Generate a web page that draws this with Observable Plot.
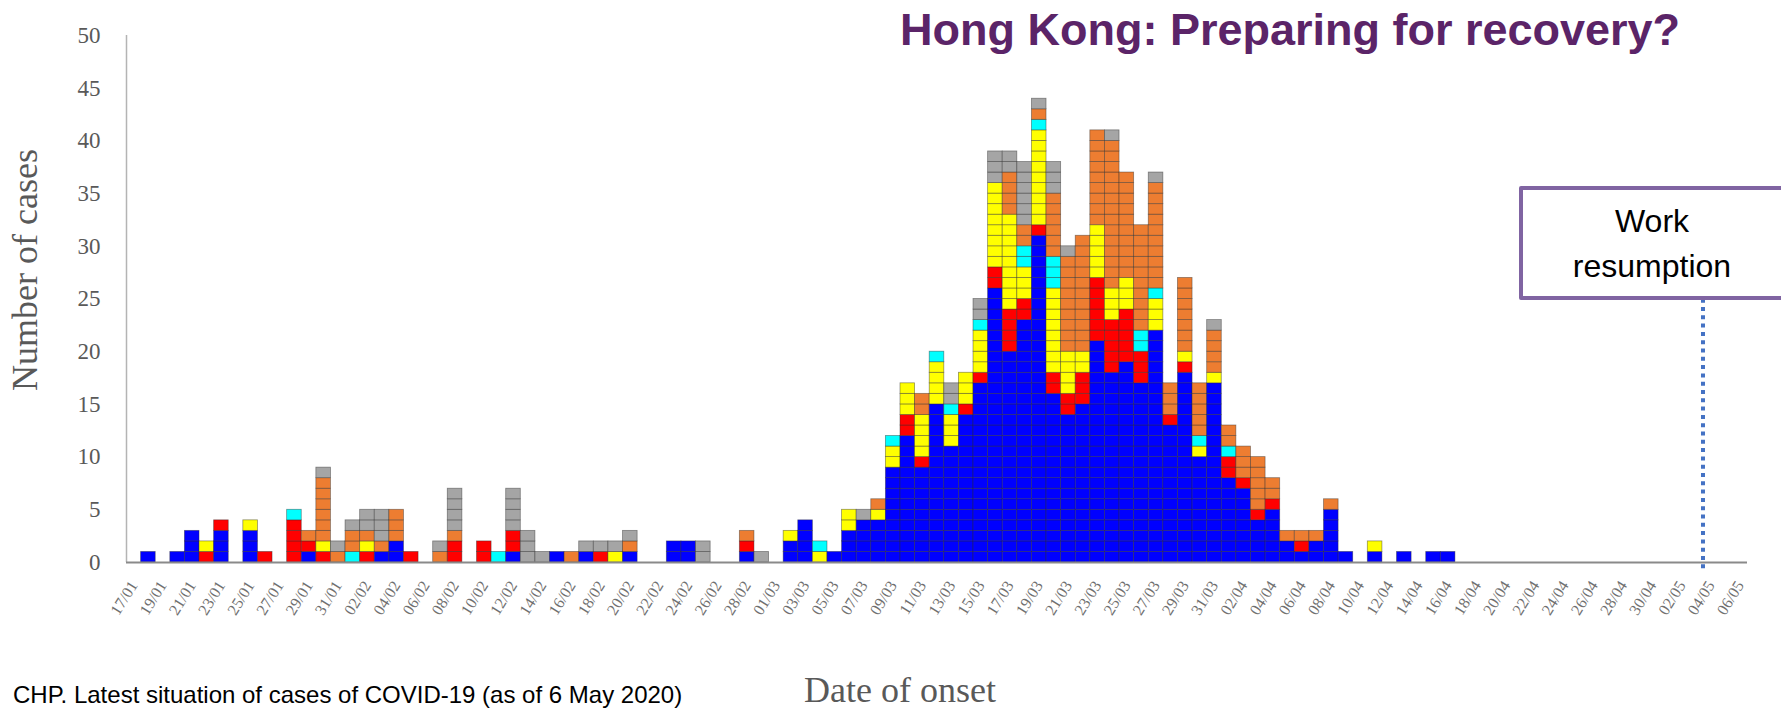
<!DOCTYPE html>
<html>
<head>
<meta charset="utf-8">
<script src="https://cdn.jsdelivr.net/npm/d3@7"></script>
<script src="https://cdn.jsdelivr.net/npm/@observablehq/plot@0.6"></script>
<style>
  html, body { margin: 0; padding: 0; background: #ffffff; }
  #wrap { position: relative; width: 1781px; height: 709px; overflow: hidden; background: #fff; }
  #chart { position: absolute; left: 0; top: 0; }
  #title { position: absolute; left: 900px; top: 7px; font-family: "Liberation Sans", Arial, sans-serif; font-weight: bold; font-size: 45px; line-height: 45px; color: #5b2468; white-space: nowrap; }
  #ylabel { position: absolute; left: -125px; top: 252px; width: 300px; height: 36px; line-height: 36px; text-align: center; font-family: "Liberation Serif", "Times New Roman", serif; font-size: 36px; color: #595959; transform: rotate(-90deg); white-space: nowrap; }
  #xlabel { position: absolute; left: 700px; top: 672px; width: 400px; text-align: center; font-family: "Liberation Serif", "Times New Roman", serif; font-size: 36px; line-height: 36px; color: #595959; white-space: nowrap; }
  #source { position: absolute; left: 13px; top: 683px; font-family: "Liberation Sans", Arial, sans-serif; font-size: 24px; line-height: 24px; color: #000; white-space: nowrap; }
  #box { position: absolute; left: 1519px; top: 186px; width: 266px; height: 114px; box-sizing: border-box; border: 4px solid #8064a2; border-radius: 2px; background: #fff; display: flex; flex-direction: column; align-items: center; justify-content: center; padding-top: 2px; font-family: "Liberation Sans", Arial, sans-serif; font-size: 32px; line-height: 45px; color: #000; }
</style>
</head>
<body>
<div id="wrap">
  <div id="chart"></div>
  <div id="title">Hong Kong: Preparing for recovery?</div>
  <div id="ylabel">Number of cases</div>
  <div id="xlabel">Date of onset</div>
  <div id="source">CHP. Latest situation of cases of COVID-19 (as of 6 May 2020)</div>
  <div id="box"><div>Work</div><div>resumption</div></div>
</div>
<script>
// Dates of onset (categories), 17/01/2020 – 06/05/2020
const dates = [
  "17/01","18/01","19/01","20/01","21/01","22/01","23/01","24/01","25/01","26/01","27/01","28/01","29/01","30/01","31/01",
  "01/02","02/02","03/02","04/02","05/02","06/02","07/02","08/02","09/02","10/02","11/02","12/02","13/02","14/02","15/02",
  "16/02","17/02","18/02","19/02","20/02","21/02","22/02","23/02","24/02","25/02","26/02","27/02","28/02","29/02",
  "01/03","02/03","03/03","04/03","05/03","06/03","07/03","08/03","09/03","10/03","11/03","12/03","13/03","14/03","15/03",
  "16/03","17/03","18/03","19/03","20/03","21/03","22/03","23/03","24/03","25/03","26/03","27/03","28/03","29/03","30/03","31/03",
  "01/04","02/04","03/04","04/04","05/04","06/04","07/04","08/04","09/04","10/04","11/04","12/04","13/04","14/04","15/04",
  "16/04","17/04","18/04","19/04","20/04","21/04","22/04","23/04","24/04","25/04","26/04","27/04","28/04","29/04","30/04",
  "01/05","02/05","03/05","04/05","05/05","06/05"
];

// Case counts per day, by category (stacked bottom to top in this order)
const blue = [0,1,0,1,3,0,3,0,3,0, 0,0,1,0,0,0,0,1,2,0, 0,0,0,0,0,0,1,0,0,1, 0,1,0,0,1,0,0,2,2,0,
  0,0,1,0,0,2,4,0,1,3, 4,4,9,12,9,15,11,14,17,26, 20,23,31,16,14,15,21,18,19,17, 22,13,18,10,17,8,7,4,5,2,
  1,2,5,1,0,1,0,1,0,1, 1,0,0,0,0,0,0,0,0,0, 0,0,0,0,0,0,0,0,0,0, 0];
const red = [0,0,0,0,0,1,1,0,0,1, 0,4,1,1,0,0,1,0,0,1, 0,0,2,0,2,0,2,0,0,0, 0,0,1,0,0,0,0,0,0,0,
  0,0,1,0,0,0,0,0,0,0, 0,0,0,2,1,0,0,1,1,2, 4,2,1,2,2,3,6,5,5,3, 0,1,1,0,0,2,1,1,1,0,
  1,0,0,0,0,0,0,0,0,0, 0,0,0,0,0,0,0,0,0,0, 0,0,0,0,0,0,0,0,0,0, 0];
const yellow = [0,0,0,0,0,1,0,0,1,0, 0,0,0,1,0,0,1,0,0,0, 0,0,0,0,0,0,0,0,0,0, 0,0,0,1,0,0,0,0,0,0,
  0,0,0,0,0,1,0,1,0,2, 0,1,2,3,4,4,3,3,4,8, 9,3,9,8,4,2,5,3,3,0, 3,0,1,1,1,0,0,0,0,0,
  0,0,0,0,0,1,0,0,0,0, 0,0,0,0,0,0,0,0,0,0, 0,0,0,0,0,0,0,0,0,0, 0];
const cyan = [0,0,0,0,0,0,0,0,0,0, 0,1,0,0,0,1,0,0,0,0, 0,0,0,0,0,1,0,0,0,0, 0,0,0,0,0,0,0,0,0,0,
  0,0,0,0,0,0,0,1,0,0, 0,0,1,0,0,1,1,0,1,0, 0,2,1,3,0,0,0,0,0,2, 1,0,0,1,0,1,0,0,0,0,
  0,0,0,0,0,0,0,0,0,0, 0,0,0,0,0,0,0,0,0,0, 0,0,0,0,0,0,0,0,0,0, 0];
const orange = [0,0,0,0,0,0,0,0,0,0, 0,0,1,6,1,2,1,1,3,0, 0,1,1,0,0,0,0,0,0,0, 1,0,0,0,1,0,0,0,0,0,
  0,0,1,0,0,0,0,0,0,0, 0,1,0,0,2,0,0,0,0,0, 4,2,1,6,9,11,9,14,10,10, 10,3,7,5,4,2,3,5,2,1,
  1,1,1,0,0,0,0,0,0,0, 0,0,0,0,0,0,0,0,0,0, 0,0,0,0,0,0,0,0,0,0, 0];
const gray = [0,0,0,0,0,0,0,0,0,0, 0,0,0,1,1,1,2,3,0,0, 0,1,4,0,0,0,4,3,1,0, 0,1,1,1,1,0,0,0,0,2,
  0,0,0,1,0,0,0,0,0,0, 1,0,0,0,0,0,2,0,2,3, 2,6,1,3,1,0,0,1,0,0, 1,0,0,0,1,0,0,0,0,0,
  0,0,0,0,0,0,0,0,0,0, 0,0,0,0,0,0,0,0,0,0, 0,0,0,0,0,0,0,0,0,0, 0];

const seriesNames = ["Series 1", "Series 2", "Series 3", "Series 4", "Series 5", "Series 6"];
const seriesColors = ["#0000ff", "#ff0000", "#ffff00", "#00ffff", "#ed7d31", "#a5a5a5"];
const seriesValues = [blue, red, yellow, cyan, orange, gray];

const yTicks = [0, 5, 10, 15, 20, 25, 30, 35, 40, 45, 50];
const workResumption = "04/05";

// one row per case (each case drawn as one cell), stacked in series order
const cells = [];
dates.forEach((d, i) => {
  let base = 0;
  seriesNames.forEach((s, k) => {
    const n = seriesValues[k][i];
    for (let j = 0; j < n; j++) {
      cells.push({ i, s, y1: base, y2: base + 1 });
      base += 1;
    }
  });
});

const labelIdx = dates.map((d, i) => i).filter(i => i % 2 === 0);
const workIdx = dates.indexOf(workResumption);

const chart = Plot.plot({
  width: 1781,
  height: 709,
  marginLeft: 126,
  marginRight: 34,
  marginTop: 35,
  marginBottom: 147,
  x: { type: "linear", domain: [0, dates.length] },
  y: { domain: [0, 50] },
  color: { type: "ordinal", domain: seriesNames, range: seriesColors },
  style: { fontFamily: "'Liberation Serif', 'Times New Roman', serif", color: "#595959", background: "transparent", overflow: "visible" },
  marks: [
    Plot.rect(cells, { x1: "i", x2: d => d.i + 1, y1: "y1", y2: "y2", fill: "s", stroke: "#2b2b2b", strokeOpacity: 0.5, strokeWidth: 0.8 }),
    Plot.ruleX([0], { stroke: "#b4b4b4", strokeWidth: 1.5 }),
    Plot.ruleY([0], { stroke: "#8a8a8a", strokeWidth: 2.2 }),
    Plot.ruleX([workIdx + 0.5], { y1: -0.6, y2: 24.9, dx: -8, stroke: "#4472c4", strokeWidth: 4, strokeDasharray: "4,4.3" }),
    Plot.axisY({ ticks: yTicks, tickSize: 0, tickPadding: 26, fontSize: 23, label: null }),
    Plot.axisX({ ticks: labelIdx.map(i => i + 0.5), tickFormat: v => dates[Math.floor(v)], tickRotate: -58, tickSize: 0, tickPadding: 20, dx: 0, fontSize: 16, label: null, color: "#707070" })
  ]
});
document.getElementById("chart").appendChild(chart);
</script>
</body>
</html>
